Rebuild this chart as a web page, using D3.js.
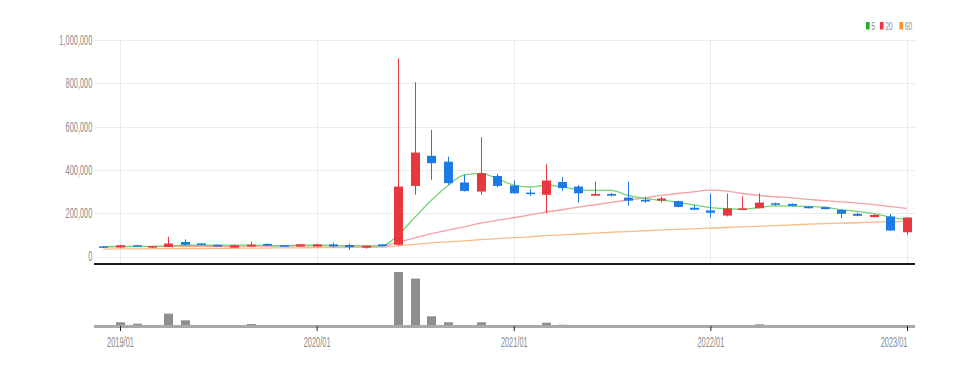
<!DOCTYPE html>
<html>
<head>
<meta charset="utf-8">
<script src="https://cdn.jsdelivr.net/npm/d3@7"></script>
<style>
  body { margin: 0; background: #fff; }
  svg { display: block; }
  text { font-family: "Liberation Sans", Arial, sans-serif; }
</style>
</head>
<body>
<div id="chart"></div>
<script>
// monthly candles, prices in thousands of won
const months = [
  '2018/12', '2019/01', '2019/02', '2019/03', '2019/04', '2019/05', '2019/06', '2019/07', '2019/08', '2019/09',
  '2019/10', '2019/11', '2019/12', '2020/01', '2020/02', '2020/03', '2020/04', '2020/05', '2020/06', '2020/07',
  '2020/08', '2020/09', '2020/10', '2020/11', '2020/12', '2021/01', '2021/02', '2021/03', '2021/04', '2021/05',
  '2021/06', '2021/07', '2021/08', '2021/09', '2021/10', '2021/11', '2021/12', '2022/01', '2022/02', '2022/03',
  '2022/04', '2022/05', '2022/06', '2022/07', '2022/08', '2022/09', '2022/10', '2022/11', '2022/12', '2023/01'
];
const opens = [47, 42, 52, 41, 44, 67, 60, 54, 41, 46, 58, 52, 46, 46, 56, 53, 41, 56, 54, 326,
  465, 438, 342, 300, 372, 328, 295, 285, 344, 323, 281, 289, 272, 262, 258, 256, 225, 213, 189, 215,
  223, 246, 243, 231, 228, 215, 197, 182, 185, 112];
const highs = [48, 54, 54, 49, 91, 79, 62, 55, 54, 68, 60, 53, 58, 58, 64, 60, 51, 58, 915, 805,
  585, 461, 377, 551, 382, 351, 311, 426, 366, 330, 346, 293, 346, 276, 276, 258, 238, 291, 291, 278,
  291, 249, 245, 233, 230, 217, 203, 195, 196, 182];
const lows = [40, 41, 45, 39, 43, 50, 53, 45, 40, 45, 48, 45, 45, 45, 42, 31, 36, 46, 50, 285,
  354, 331, 300, 285, 320, 290, 280, 200, 303, 249, 280, 277, 234, 248, 250, 227, 214, 180, 185, 214,
  222, 235, 232, 222, 218, 177, 186, 180, 118, 100];
const closes = [42, 52, 46, 48, 60, 54, 54, 46, 52, 55, 50, 46, 56, 56, 46, 43, 49, 48, 323, 480,
  431, 339, 303, 385, 326, 292, 288, 351, 316, 292, 289, 281, 258, 254, 268, 229, 216, 202, 222, 222,
  249, 239, 234, 223, 219, 197, 188, 192, 120, 180];
const volumes = [300, 2350, 1650, 900, 6650, 3350, 900, 300, 900, 1500, 900, 300, 900, 600, 900, 900, 900, 900, 27500, 24200,
  5350, 2350, 900, 2350, 900, 900, 300, 2150, 1150, 900, 900, 300, 900, 300, 300, 300, 300, 900, 900, 900,
  1350, 300, 300, 300, 300, 300, 300, 300, 300, 300];
const ma5 = [46, 47, 47, 47, 49, 52, 52, 52, 53, 52, 51, 50, 52, 52, 51, 49, 50, 48, 101, 180,
  260, 328, 377, 384, 360, 330, 321, 330, 322, 309, 305, 305, 282, 268, 260, 250, 238, 226, 221, 219,
  226, 234, 233, 231, 228, 216, 208, 198, 182, 170];
const ma20 = [45, 45, 46, 46, 46, 47, 47, 47, 47, 48, 48, 48, 49, 49, 49, 49, 49, 49, 66, 86,
  106, 122, 137, 154, 167, 179, 192, 205, 216, 228, 239, 250, 261, 271, 282, 291, 299, 307, 302, 291,
  282, 276, 271, 264, 258, 252, 247, 240, 230, 222];
const ma60 = [34, 35, 35, 36, 36, 37, 37, 38, 38, 39, 39, 40, 40, 41, 41, 42, 42, 43, 49, 56,
  63, 68, 72, 78, 83, 87, 91, 96, 100, 104, 108, 112, 115, 119, 122, 125, 128, 131, 134, 137,
  140, 143, 146, 149, 152, 154, 156, 159, 160, 163];
const yTicks = [0, 200000, 400000, 600000, 800000, 1000000];
const xTickLabels = ['2019/01', '2020/01', '2021/01', '2022/01', '2023/01'];
const maLabels = ['5', '20', '60'];

const width = 973;
const height = 367;
const left = 95, right = 915;
const squeeze = 0.53; // narrow lettering of the original
const upColor = '#e8373e', downColor = '#1e7be6';
const maColors = ['#74d374', '#f3a0a7', '#f8bb85'];
const legendColors = ['#1fb31f', '#ef3340', '#f7922d'];

const parse = d3.timeParse('%Y/%m');
const rows = months.map((m, i) => ({
  date: parse(m), open: opens[i] * 1000, high: highs[i] * 1000, low: lows[i] * 1000,
  close: closes[i] * 1000, volume: volumes[i]
}));

const svg = d3.select('#chart').append('svg').attr('width', width).attr('height', height);

const x = d3.scaleTime().domain([parse('2019/01'), parse('2023/01')]).range([120, 907]);
const y = d3.scaleLinear().domain([0, 1000000]).range([256.5, 40]);
const yv = d3.scaleLinear().domain([0, 30000]).range([327, 267]);
const yearDates = xTickLabels.map(parse);

// grid
svg.append('g').selectAll('line').data(yTicks).join('line')
  .attr('x1', left).attr('x2', right)
  .attr('y1', (d) => Math.round(y(d)) + 0.5).attr('y2', (d) => Math.round(y(d)) + 0.5)
  .attr('stroke', '#ececec');
svg.append('g').selectAll('line').data(yearDates).join('line')
  .attr('x1', (d) => Math.round(x(d)) + 0.5).attr('x2', (d) => Math.round(x(d)) + 0.5)
  .attr('y1', 40).attr('y2', 263)
  .attr('stroke', '#ececec');

// y axis labels
const yAxis = svg.append('g').attr('transform', `translate(${left},0)`)
  .call(d3.axisLeft(y).tickValues(yTicks).tickFormat(d3.format(',')).tickSize(0).tickPadding(0));
yAxis.select('.domain').remove();
yAxis.selectAll('text')
  .attr('x', -2.7 / squeeze)
  .attr('transform', `scale(${squeeze},1)`)
  .attr('fill', '#8a8a8a').attr('font-size', 14)
  .style('font-family', '"Liberation Sans", Arial, sans-serif');

// moving averages
const maSeries = [ma5, ma20, ma60];
const line = d3.line().x((d) => x(d.date)).y((d) => y(d.v)).curve(d3.curveMonotoneX);
maSeries.slice().reverse().forEach((series, k) => {
  const idx = maSeries.length - 1 - k;
  svg.append('path')
    .datum(series.map((v, i) => ({ date: rows[i].date, v: v * 1000 })))
    .attr('d', line)
    .attr('fill', 'none')
    .attr('stroke', maColors[idx])
    .attr('stroke-width', 1.3);
});

// candles
const candle = svg.append('g').selectAll('g').data(rows).join('g');
candle.append('line')
  .attr('x1', (d) => Math.round(x(d.date)) + 0.5).attr('x2', (d) => Math.round(x(d.date)) + 0.5)
  .attr('y1', (d) => y(d.high)).attr('y2', (d) => y(d.low))
  .attr('stroke', (d) => (d.close >= d.open ? upColor : downColor));
candle.append('rect')
  .attr('x', (d) => Math.round(x(d.date)) - 4)
  .attr('width', 9)
  .attr('y', (d) => y(Math.max(d.open, d.close)))
  .attr('height', (d) => Math.max(1.5, Math.abs(y(d.open) - y(d.close))))
  .attr('fill', (d) => (d.close >= d.open ? upColor : downColor));

// separator under price panel
svg.append('line').attr('x1', left - 1).attr('x2', right).attr('y1', 264).attr('y2', 264)
  .attr('stroke', '#1c1c1c').attr('stroke-width', 2);

// volume
svg.append('g').selectAll('rect').data(rows).join('rect')
  .attr('x', (d) => Math.round(x(d.date)) - 4)
  .attr('width', 9)
  .attr('y', (d) => yv(d.volume))
  .attr('height', (d) => yv(0) - yv(d.volume))
  .attr('fill', '#8e8e8e');
svg.append('line').attr('x1', left - 1).attr('x2', right).attr('y1', 326.5).attr('y2', 326.5)
  .attr('stroke', '#a9a9a9').attr('stroke-width', 3);

// x axis
const xAxis = svg.append('g').attr('transform', 'translate(0,326)')
  .call(d3.axisBottom(x).tickValues(yearDates).tickFormat(d3.timeFormat('%Y/%m')).tickSize(5).tickPadding(6));
xAxis.select('.domain').remove();
xAxis.selectAll('.tick line').attr('stroke', '#222');
xAxis.selectAll('text')
  .attr('transform', `scale(${squeeze},1)`)
  .attr('fill', '#8a8a8a').attr('font-size', 14)
  .style('font-family', '"Liberation Sans", Arial, sans-serif');
// last label sits left of its tick so it stays inside the frame
xAxis.selectAll('.tick').filter((d, i, nodes) => i === nodes.length - 1)
  .select('text').attr('text-anchor', 'end');

// legend
const legendX = [866, 880, 899.5];
const legend = svg.append('g').selectAll('g').data(maLabels).join('g')
  .attr('transform', (d, i) => `translate(${legendX[i]},22)`);
legend.append('rect').attr('width', 3.6).attr('height', 7.5).attr('fill', (d, i) => legendColors[i]);
legend.append('text')
  .attr('transform', `translate(5.5,7.5) scale(0.62,1)`)
  .attr('fill', '#8a8a8a').attr('font-size', 10.5)
  .text((d) => d);
</script>
</body>
</html>
